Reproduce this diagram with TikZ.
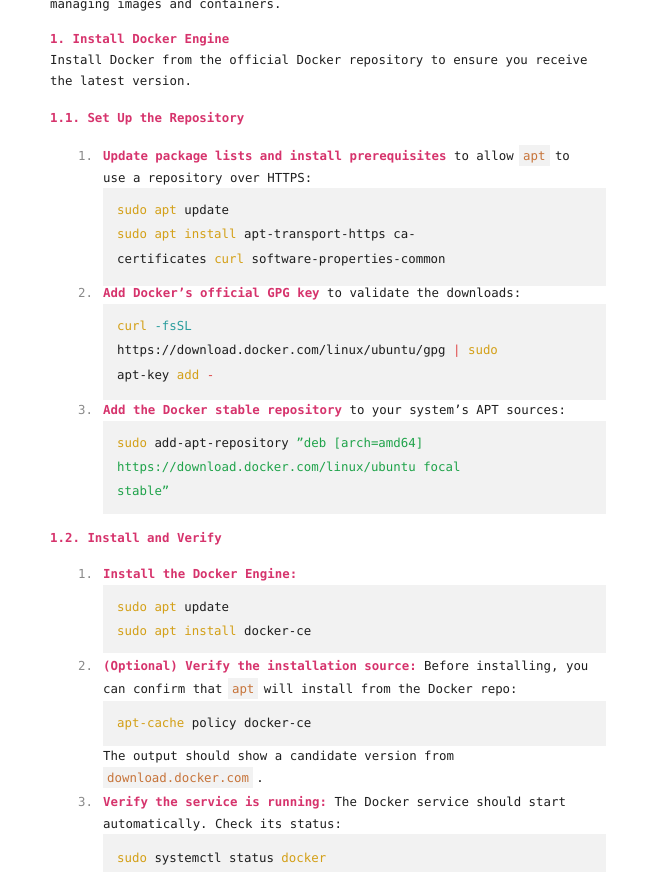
\documentclass[tikz,border=0pt]{standalone}
\usepackage{fontspec}
\setmainfont{DejaVu Sans Mono}
\usetikzlibrary{positioning}
\frenchspacing
\definecolor{bodytext}{HTML}{1E1E1E}
\definecolor{headpink}{HTML}{D6336C}
\definecolor{numgrey}{HTML}{8A8A8A}
\definecolor{codebg}{HTML}{F2F2F2}
\definecolor{kwyellow}{HTML}{D4A017}
\definecolor{inlineorange}{HTML}{C7743A}
\definecolor{strgreen}{HTML}{1FA34A}
\definecolor{optteal}{HTML}{2A9D9D}
\definecolor{pipered}{HTML}{E04848}
\newcommand{\kw}[1]{{\color{kwyellow}#1}}
\newcommand{\hd}[1]{{\bfseries\color{headpink}#1}}
\newcommand{\apos}{\symbol{39}}
\newcommand{\dq}{\symbol{34}}
\tikzset{
  txt/.style={anchor=base west, inner sep=0pt, text=bodytext,
    font=\fontsize{12.4}{15}\selectfont},
  num/.style={txt, text=numgrey},
  inl/.style={anchor=base west, inner xsep=4pt, inner ysep=0pt,
    text depth=6pt, text height=15pt, fill=codebg, text=inlineorange,
    font=\fontsize{12.4}{15}\selectfont},
  codebox/.style={fill=codebg, draw=none}
}
\begin{document}
\begin{tikzpicture}[x=1pt,y=-1pt]
  \useasboundingbox (0,0) rectangle (654,872);

  \node[txt] (intro) at (50,9) {managing images and containers.};
  \node[txt] (h1) at (50,44) {\hd{1. Install Docker Engine}};
  \node[txt] (p1) at (50,65) {Install Docker from the official Docker repository to ensure you receive};
  \node[txt] (p2) at (50,86) {the latest version.};
  \node[txt] (h11) at (50,122) {\hd{1.1. Set Up the Repository}};

  % step 1.1.1
  \node[num] (n1) at (78,160) {1.};
  \node[txt] (s1) at (103,160) {\hd{Update package lists and install prerequisites} to allow};
  \node[inl] (apt1) at ([xshift=5pt]s1.base east) {apt};
  \node[txt] (s1b) at ([xshift=5pt]apt1.base east) {to};
  \node[txt] (s1c) at (103,182) {use a repository over HTTPS:};
  \fill[codebox] (103,188) rectangle (606,286);
  \node[txt] (c1a) at (117,214) {\kw{sudo apt} update};
  \node[txt] (c1b) at (117,238) {\kw{sudo apt install} apt-transport-https ca-};
  \node[txt] (c1c) at (117,263) {certificates \kw{curl} software-properties-common};

  % step 1.1.2
  \node[num] (n2) at (78,297) {2.};
  \node[txt] (s2) at (103,297) {\hd{Add Docker\apos s official GPG key} to validate the downloads:};
  \fill[codebox] (103,304) rectangle (606,400);
  \node[txt] (c2a) at (117,330) {\kw{curl} {\color{optteal}-fsSL}};
  \node[txt] (c2b) at (117,354) {https://download.docker.com/linux/ubuntu/gpg {\color{pipered}|} \kw{sudo}};
  \node[txt] (c2c) at (117,379) {apt-key \kw{add} {\color{pipered}-}};

  % step 1.1.3
  \node[num] (n3) at (78,414) {3.};
  \node[txt] (s3) at (103,414) {\hd{Add the Docker stable repository} to your system\apos s APT sources:};
  \fill[codebox] (103,421) rectangle (606,514);
  \node[txt] (c3a) at (117,447) {\kw{sudo} add-apt-repository {\color{strgreen}\dq deb [arch=amd64]}};
  \node[txt] (c3b) at (117,471) {\color{strgreen}https://download.docker.com/linux/ubuntu focal};
  \node[txt] (c3c) at (117,495) {\color{strgreen}stable\dq};

  \node[txt] (h12) at (50,542) {\hd{1.2. Install and Verify}};

  % step 1.2.1
  \node[num] (m1) at (78,578) {1.};
  \node[txt] (t1) at (103,578) {\hd{Install the Docker Engine:}};
  \fill[codebox] (103,585) rectangle (606,653);
  \node[txt] (d1a) at (117,611) {\kw{sudo apt} update};
  \node[txt] (d1b) at (117,635) {\kw{sudo apt install} docker-ce};

  % step 1.2.2
  \node[num] (m2) at (78,670) {2.};
  \node[txt] (t2) at (103,670) {\hd{(Optional) Verify the installation source:} Before installing, you};
  \node[txt] (t2b) at (103,693) {can confirm that};
  \node[inl] (apt2) at ([xshift=5pt]t2b.base east) {apt};
  \node[txt] (t2c) at ([xshift=5pt]apt2.base east) {will install from the Docker repo:};
  \fill[codebox] (103,701) rectangle (606,746);
  \node[txt] (d2a) at (117,727) {\kw{apt-cache} policy docker-ce};
  \node[txt] (t2d) at (103,760) {The output should show a candidate version from};
  \node[inl] (dl) at (103,782) {download.docker.com};
  \node[txt] (t2e) at ([xshift=3pt]dl.base east) {.};

  % step 1.2.3
  \node[num] (m3) at (78,806) {3.};
  \node[txt] (t3) at (103,806) {\hd{Verify the service is running:} The Docker service should start};
  \node[txt] (t3b) at (103,828) {automatically. Check its status:};
  \fill[codebox] (103,834) rectangle (606,872);
  \node[txt] (d3a) at (117,862) {\kw{sudo} systemctl status \kw{docker}};
\end{tikzpicture}
\end{document}
